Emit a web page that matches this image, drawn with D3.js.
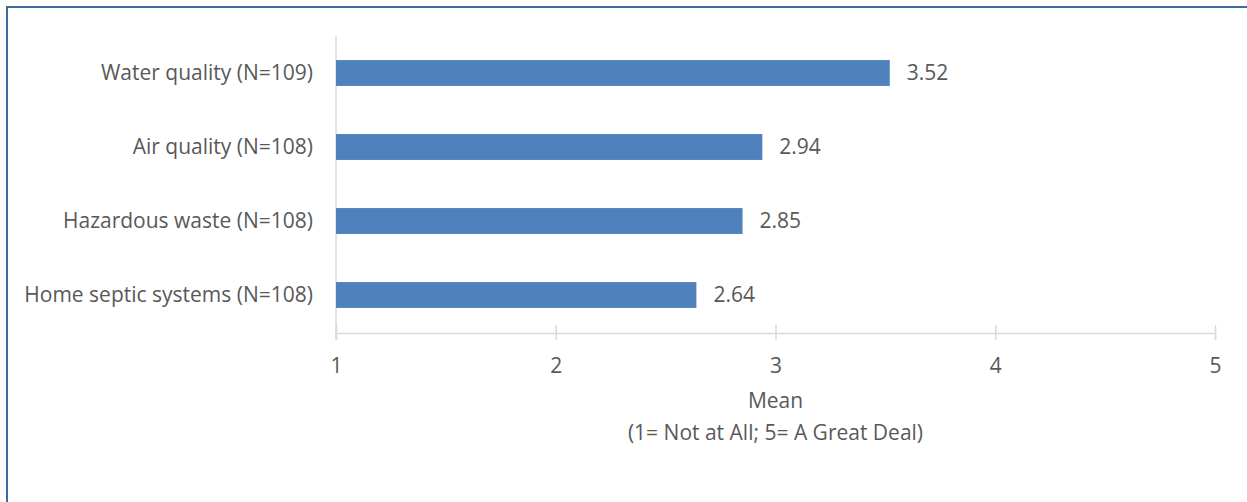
<!DOCTYPE html>
<html><head><meta charset="utf-8">
<script src="https://cdn.jsdelivr.net/npm/d3@7"></script>
<style>body{margin:0;background:#fff}svg{display:block}text{font-family:"Open Sans",sans-serif;fill:#595959;font-size:21px}</style>
</head><body><svg id="c" width="1247" height="502"></svg>
<script>
const categories = ["Water quality (N=109)", "Air quality (N=108)", "Hazardous waste (N=108)", "Home septic systems (N=108)"];
const values = [3.52, 2.94, 2.85, 2.64];
const ticks = [1, 2, 3, 4, 5];
const axisTitle = ["Mean", "(1= Not at All; 5= A Great Deal)"];

const svg = d3.select("#c");
svg.append("rect").attr("x", 7).attr("y", 7).attr("width", 1300).attr("height", 600)
  .attr("fill", "none").attr("stroke", "#3E6A9E").attr("stroke-width", 2);

const x = d3.scaleLinear().domain([1, 5]).range([336, 1215]);
const y = d3.scaleBand().domain(categories).range([36, 332]).paddingInner(0.65).paddingOuter(0.325);

svg.append("line").attr("x1", x(1)).attr("x2", x(1)).attr("y1", 36).attr("y2", 340)
  .attr("stroke", "#D9D9D9").attr("stroke-width", 1.5);

const xAxis = svg.append("g").attr("transform", "translate(0,333)")
  .call(d3.axisBottom(x).tickValues(ticks).tickSize(7).tickFormat(d3.format("d")));
xAxis.attr("font-size", null).attr("font-family", null);
xAxis.select(".domain").attr("stroke", "#D9D9D9").attr("stroke-width", 1.5);
xAxis.selectAll(".tick line").attr("stroke", "#D9D9D9").attr("stroke-width", 1.5).attr("y1", -8);
xAxis.selectAll(".tick text").attr("y", 25).attr("fill", "#595959");

svg.selectAll(".bar").data(values).join("rect")
  .attr("x", x(1)).attr("y", (d, i) => y(categories[i]))
  .attr("width", d => x(d) - x(1)).attr("height", y.bandwidth())
  .attr("fill", "#4F81BD");

svg.selectAll(".val").data(values).join("text")
  .attr("x", d => x(d) + 17).attr("y", (d, i) => y(categories[i]) + y.bandwidth() / 2)
  .attr("dy", "0.35em").text(d => d.toFixed(2));

svg.selectAll(".cat").data(categories).join("text")
  .attr("x", 313).attr("y", d => y(d) + y.bandwidth() / 2)
  .attr("dy", "0.35em").attr("text-anchor", "end").text(d => d);

svg.selectAll(".ttl").data(axisTitle).join("text")
  .attr("x", (x(1) + x(5)) / 2).attr("y", (d, i) => 408 + i * 32)
  .attr("text-anchor", "middle").text(d => d);
</script></body></html>
